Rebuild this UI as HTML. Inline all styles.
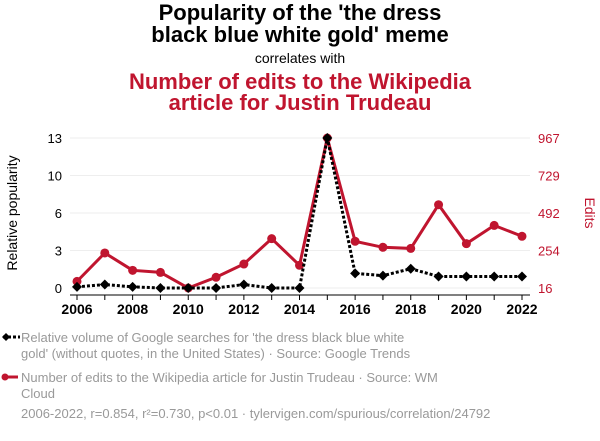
<!DOCTYPE html>
<html><head><meta charset="utf-8"><style>
body{margin:0;width:600px;height:436px;background:#fff;font-family:"Liberation Sans",sans-serif;overflow:hidden}
</style></head><body>
<svg width="600" height="436">
<g font-family="Liberation Sans, sans-serif" text-anchor="middle">
<text x="300" y="20" font-size="22" font-weight="bold" fill="#000">Popularity of the 'the dress</text>
<text x="300" y="42" font-size="22" font-weight="bold" fill="#000">black blue white gold' meme</text>
<text x="300" y="63" font-size="14" fill="#000">correlates with</text>
<text x="300" y="89" font-size="22" font-weight="bold" fill="#c0152f">Number of edits to the Wikipedia</text>
<text x="300" y="110" font-size="22" font-weight="bold" fill="#c0152f">article for Justin Trudeau</text>
</g>
<g id="grid"></g><g id="axes"></g><g id="series"></g>
<text transform="translate(17,213) rotate(-90)" text-anchor="middle" font-size="14">Relative popularity</text>
<text transform="translate(585,213) rotate(90)" text-anchor="middle" font-size="14" fill="#c0152f">Edits</text>
<g font-size="13" fill="#999">
<line x1="3" y1="337" x2="20" y2="337" stroke="#000" stroke-width="3" stroke-dasharray="3,2"/>
<path d="M2,337 l4,-4 4,4 -4,4z" fill="#000"/>
<text x="21" y="342">Relative volume of Google searches for 'the dress black blue white</text>
<text x="21" y="358">gold' (without quotes, in the United States) · Source: Google Trends</text>
<line x1="3" y1="377" x2="18" y2="377" stroke="#c0152f" stroke-width="3"/>
<circle cx="5" cy="377" r="3.5" fill="#c0152f"/>
<text x="21" y="382">Number of edits to the Wikipedia article for Justin Trudeau · Source: WM</text>
<text x="21" y="398">Cloud</text>
<text x="21" y="418">2006-2022, r=0.854, r²=0.730, p&lt;0.01 · tylervigen.com/spurious/correlation/24792</text>
</g>
</svg>
<script>
const years=[2006,2007,2008,2009,2010,2011,2012,2013,2014,2015,2016,2017,2018,2019,2020,2021,2022];
const google=[0.1,0.3,0.1,0,0,0,0.3,0,0,13,1.27,1.07,1.67,1.0,1.0,1.0,1.0];
const edits=[58,238,128,115,16,84,168,329,160,967,312,274,267,544,297,413,344];
const leftTicks=[0,3.25,6.5,9.75,13];
const leftLabels=["0","3","6","10","13"];
const rightTicks=[16,254,492,729,967];
const xTicks=[2006,2008,2010,2012,2014,2016,2018,2020,2022];
const NS="http://www.w3.org/2000/svg";
const X=y=>77+(y-2006)*(522-77)/16;
const YL=v=>288-v*150/13;
const YR=v=>288-(v-16)*150/951;
function mk(tag,attrs,parent,txt){const e=document.createElementNS(NS,tag);for(const k in attrs)e.setAttribute(k,attrs[k]);if(txt!==undefined)e.textContent=txt;document.getElementById(parent).appendChild(e);return e;}
leftTicks.forEach((t,i)=>{
 const g=mk('line',{x1:70,x2:530,y1:YL(t),y2:YL(t),stroke:'#eee','stroke-width':1},'grid');
 
 
 const l=mk('text',{x:62,y:YL(t)+5,'text-anchor':'end','font-size':13},'axes',leftLabels[i]);
 
 
});
rightTicks.forEach(t=>{
 const l=mk('text',{x:538,y:YR(t)+5,'font-size':13,fill:'#c0152f'},'axes',String(t));
 
 
});
const ax=mk('line',{x1:70,x2:530,y1:295,y2:295,stroke:'#000','stroke-width':1},'axes');


years.forEach(y=>{mk('line',{x1:X(y),x2:X(y),y1:295,y2:300,stroke:'#000'},'axes');});
xTicks.forEach(y=>{
 const l=mk('text',{x:X(y),y:314,'text-anchor':'middle','font-size':14,'font-weight':'bold'},'axes',String(y));
 
 
});
const rp=mk('polyline',{points:years.map((y,i)=>X(y)+','+YR(edits[i])).join(' '),fill:'none',stroke:'#c0152f','stroke-width':3},'series');


years.forEach((y,i)=>{
 const c=mk('circle',{cx:X(y),cy:YR(edits[i]),r:4.5,fill:'#c0152f'},'series');
 
 
});
const bp=mk('polyline',{points:years.map((y,i)=>X(y)+','+YL(google[i])).join(' '),fill:'none',stroke:'#000','stroke-width':3,'stroke-dasharray':'3,2'},'series');


years.forEach((y,i)=>{
 const x=X(y),yy=YL(google[i]);
 const d=mk('path',{d:`M${x-5},${yy} L${x},${yy-5} L${x+5},${yy} L${x},${yy+5}Z`,fill:'#000'},'series');
 
 
});
</script>
</body></html>
